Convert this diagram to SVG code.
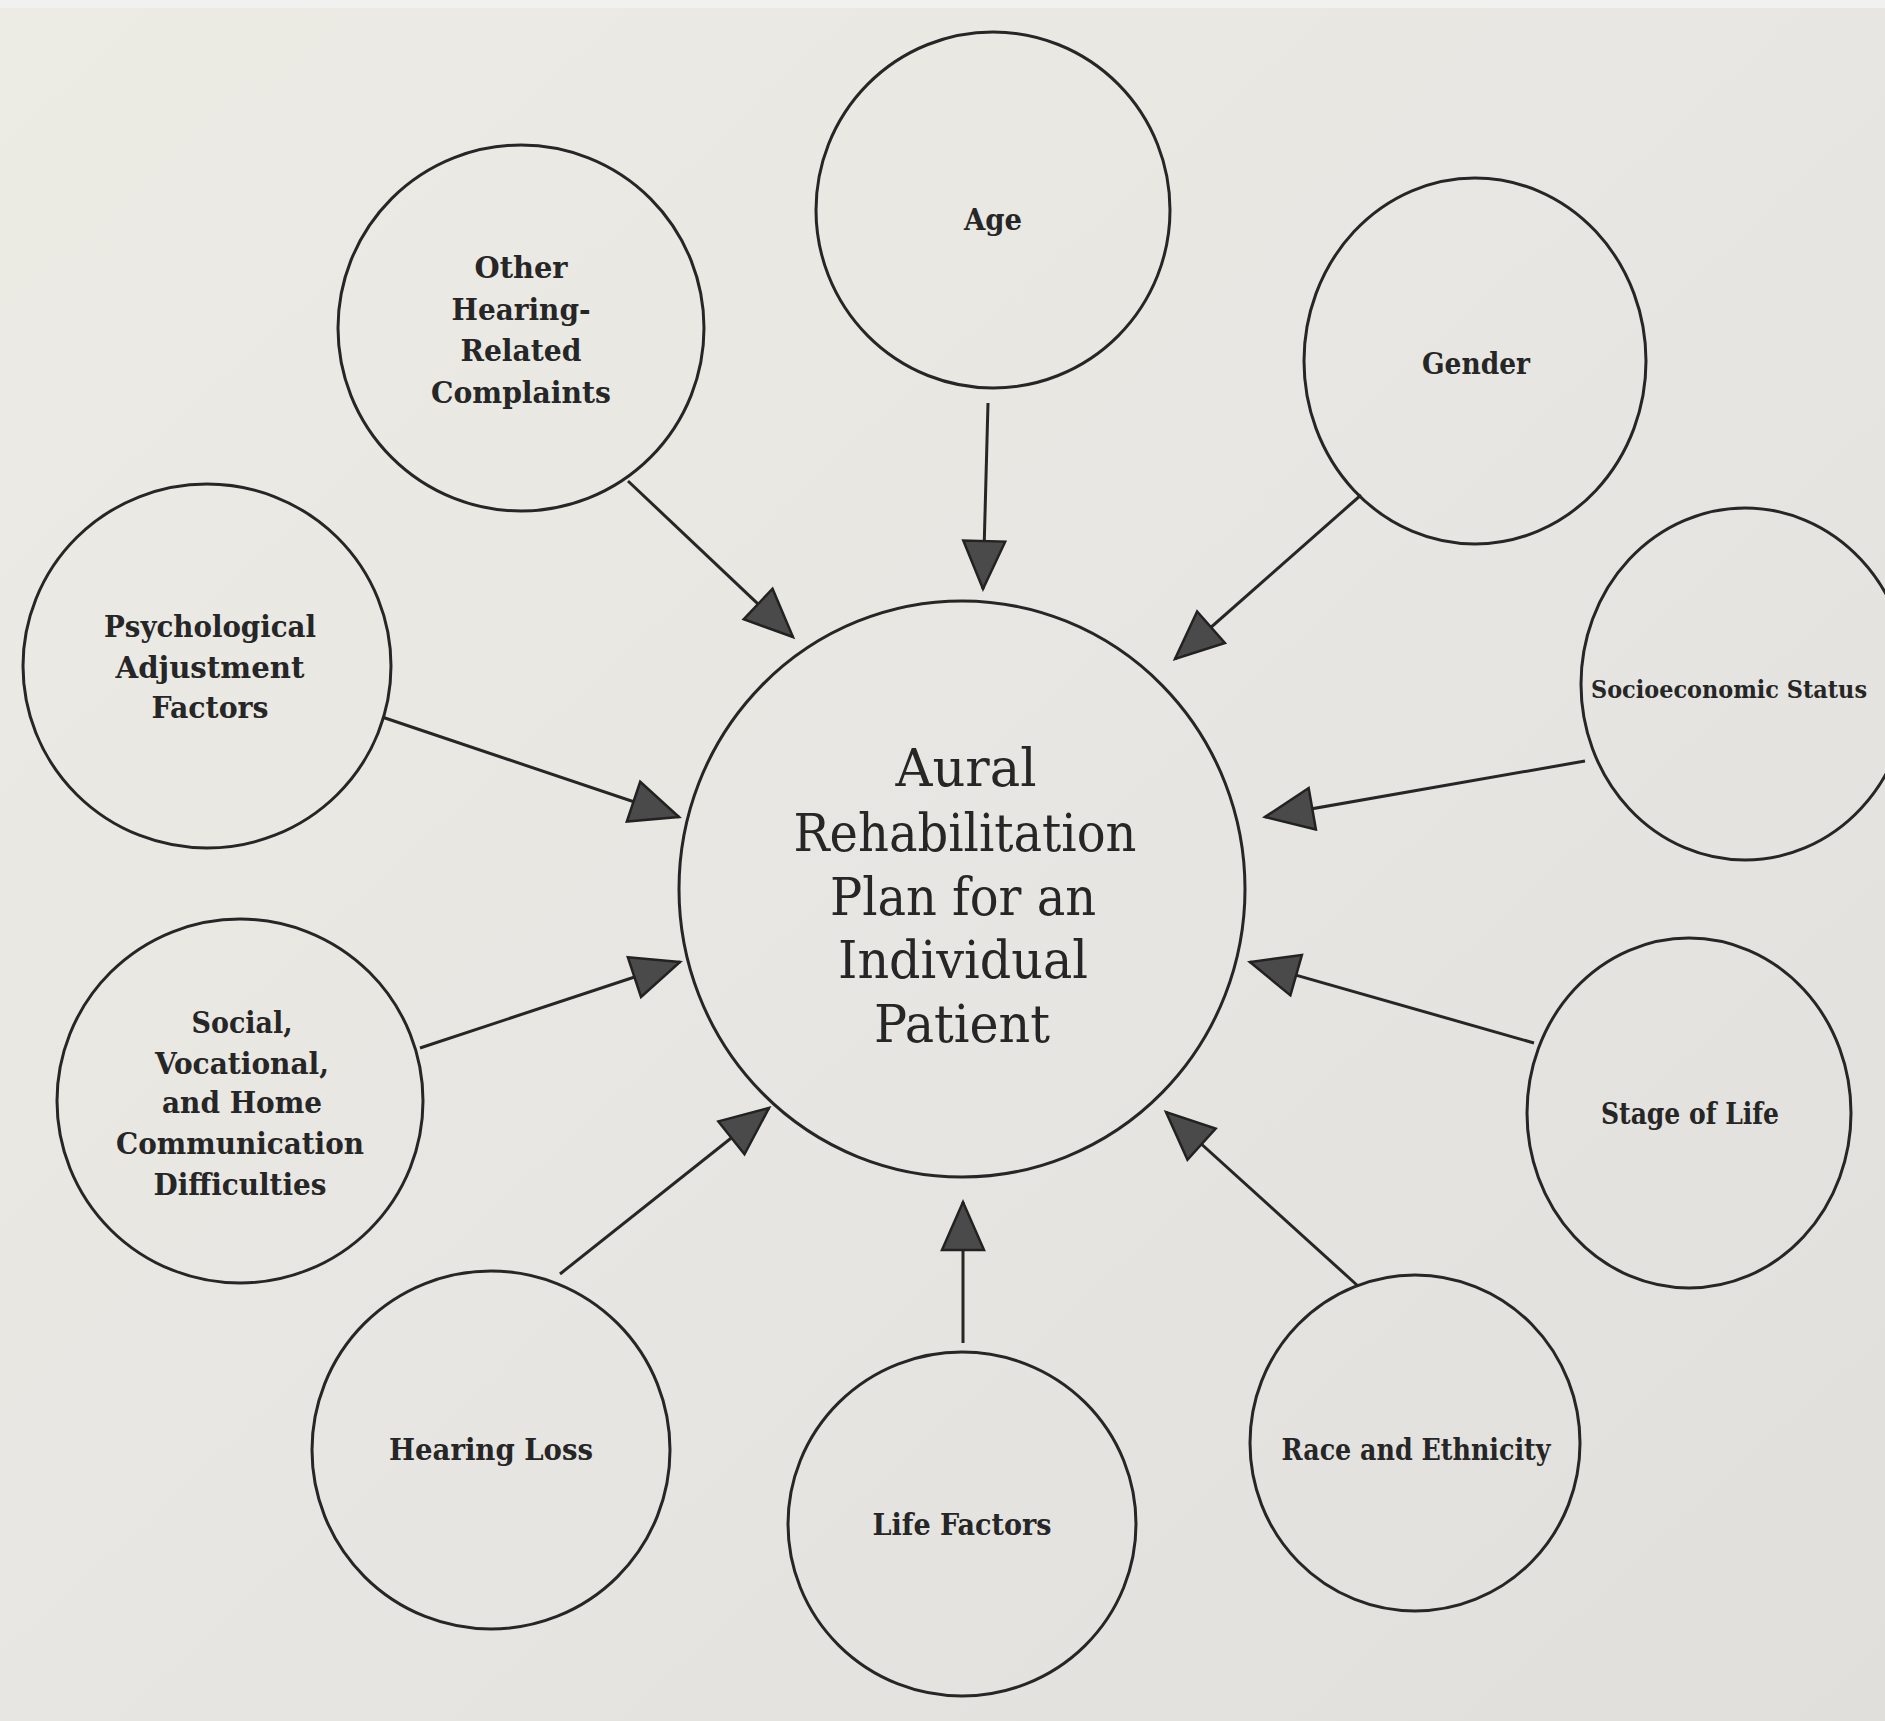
<svg xmlns="http://www.w3.org/2000/svg" width="1885" height="1721" viewBox="0 0 1885 1721">
<defs>
<linearGradient id="paper" x1="0" y1="0" x2="1" y2="1">
<stop offset="0" stop-color="#ecebe4"/>
<stop offset="0.5" stop-color="#e7e6e2"/>
<stop offset="1" stop-color="#e0dfdc"/>
</linearGradient>
<marker id="ah" markerUnits="userSpaceOnUse" markerWidth="54" markerHeight="50" refX="50" refY="23" orient="auto">
<path d="M2,2 L50,23 L2,44 Z" fill="#4a4a4a" stroke="#222" stroke-width="2.5" stroke-linejoin="miter"/>
</marker>
</defs>
<style>
.node ellipse{fill:none;stroke:#262626;stroke-width:3}
.lbl{font-family:"DejaVu Serif Condensed","DejaVu Serif","Liberation Serif",serif;font-weight:bold;font-size:30px;fill:#262626;text-anchor:middle}
.big{font-family:"DejaVu Serif Condensed","DejaVu Serif","Liberation Serif",serif;font-size:52px;fill:#262626;text-anchor:middle}
#connectors line{stroke:#262626;stroke-width:3;marker-end:url(#ah)}
</style>
<rect x="0" y="0" width="1885" height="1721" fill="url(#paper)"/>
<rect x="0" y="0" width="1885" height="8" fill="#f1f1ef"/>

<g id="connectors">
<line x1="988" y1="403" x2="983" y2="589"/>
<line x1="628" y1="481" x2="793" y2="637"/>
<line x1="1361" y1="495" x2="1175" y2="659"/>
<line x1="382" y1="717" x2="679" y2="817"/>
<line x1="1585" y1="761" x2="1265" y2="817"/>
<line x1="420" y1="1048" x2="680" y2="962"/>
<line x1="1534" y1="1043" x2="1250" y2="962"/>
<line x1="560" y1="1274" x2="769" y2="1108"/>
<line x1="963" y1="1343" x2="963" y2="1202"/>
<line x1="1358" y1="1286" x2="1166" y2="1112"/>
</g>

<g id="center" class="node">
<ellipse cx="962" cy="889" rx="283" ry="288"/>
<text class="big" x="966" y="786" textLength="141" lengthAdjust="spacingAndGlyphs">Aural</text>
<text class="big" x="965" y="851" textLength="343" lengthAdjust="spacingAndGlyphs">Rehabilitation</text>
<text class="big" x="963" y="915" textLength="266" lengthAdjust="spacingAndGlyphs">Plan for an</text>
<text class="big" x="963" y="978" textLength="250" lengthAdjust="spacingAndGlyphs">Individual</text>
<text class="big" x="962" y="1042" textLength="176" lengthAdjust="spacingAndGlyphs">Patient</text>
</g>

<g id="age" class="node">
<ellipse cx="993" cy="210" rx="177" ry="178"/>
<text class="lbl" x="993" y="230" textLength="58" lengthAdjust="spacingAndGlyphs">Age</text>
</g>

<g id="other" class="node">
<ellipse cx="521" cy="328" rx="183" ry="183"/>
<text class="lbl" x="521" y="278" textLength="93" lengthAdjust="spacingAndGlyphs">Other</text>
<text class="lbl" x="521" y="320" textLength="139" lengthAdjust="spacingAndGlyphs">Hearing-</text>
<text class="lbl" x="521" y="361" textLength="121" lengthAdjust="spacingAndGlyphs">Related</text>
<text class="lbl" x="521" y="403" textLength="180" lengthAdjust="spacingAndGlyphs">Complaints</text>
</g>

<g id="gender" class="node">
<ellipse cx="1475" cy="361" rx="171" ry="183"/>
<text class="lbl" x="1476" y="374" textLength="108" lengthAdjust="spacingAndGlyphs">Gender</text>
</g>

<g id="psych" class="node">
<ellipse cx="207" cy="666" rx="184" ry="182"/>
<text class="lbl" x="210" y="637" textLength="212" lengthAdjust="spacingAndGlyphs">Psychological</text>
<text class="lbl" x="210" y="678" textLength="189" lengthAdjust="spacingAndGlyphs">Adjustment</text>
<text class="lbl" x="210" y="718" textLength="117" lengthAdjust="spacingAndGlyphs">Factors</text>
</g>

<g id="socio" class="node">
<ellipse cx="1745" cy="684" rx="164" ry="176"/>
<text class="lbl" x="1729" y="698" style="font-size:25px" textLength="276" lengthAdjust="spacingAndGlyphs">Socioeconomic Status</text>
</g>

<g id="social" class="node">
<ellipse cx="240" cy="1101" rx="183" ry="182"/>
<text class="lbl" x="242" y="1033" textLength="101" lengthAdjust="spacingAndGlyphs">Social,</text>
<text class="lbl" x="242" y="1074" textLength="174" lengthAdjust="spacingAndGlyphs">Vocational,</text>
<text class="lbl" x="242" y="1113" textLength="160" lengthAdjust="spacingAndGlyphs">and Home</text>
<text class="lbl" x="240" y="1154" textLength="248" lengthAdjust="spacingAndGlyphs">Communication</text>
<text class="lbl" x="240" y="1195" textLength="173" lengthAdjust="spacingAndGlyphs">Difficulties</text>
</g>

<g id="stage" class="node">
<ellipse cx="1689" cy="1113" rx="162" ry="175"/>
<text class="lbl" x="1690" y="1124" textLength="178" lengthAdjust="spacingAndGlyphs">Stage of Life</text>
</g>

<g id="hearing" class="node">
<ellipse cx="491" cy="1450" rx="179" ry="179"/>
<text class="lbl" x="491" y="1460" textLength="204" lengthAdjust="spacingAndGlyphs">Hearing Loss</text>
</g>

<g id="life" class="node">
<ellipse cx="962" cy="1524" rx="174" ry="172"/>
<text class="lbl" x="962" y="1535" textLength="179" lengthAdjust="spacingAndGlyphs">Life Factors</text>
</g>

<g id="race" class="node">
<ellipse cx="1415" cy="1443" rx="165" ry="168"/>
<text class="lbl" x="1416" y="1460" textLength="269" lengthAdjust="spacingAndGlyphs">Race and Ethnicity</text>
</g>
</svg>
